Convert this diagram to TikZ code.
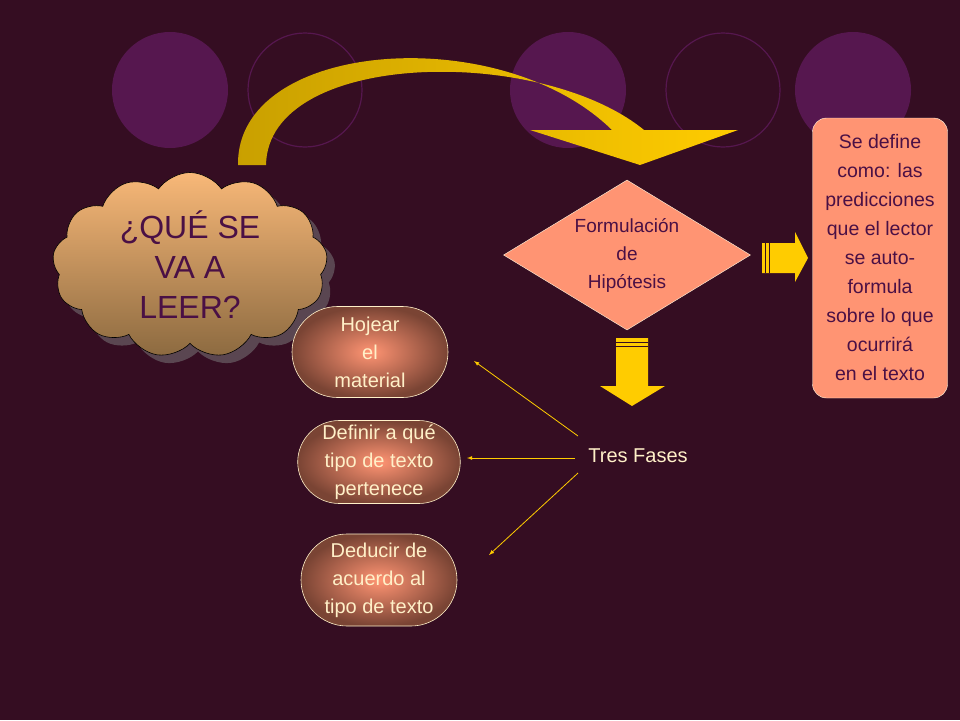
\documentclass[tikz,border=0pt]{standalone}
\usepackage{fontspec}
\setmainfont{Liberation Sans}
\usetikzlibrary{shapes.symbols,shapes.geometric,shapes.misc,shadows}
\definecolor{bgwine}{HTML}{350D22}
\definecolor{circpurple}{HTML}{56174F}
\definecolor{salmon}{HTML}{FF9473}
\definecolor{inkpurple}{HTML}{4A1045}
\definecolor{cream}{HTML}{FFF0C8}
\definecolor{gold}{HTML}{FFCC00}
\definecolor{darkgold}{HTML}{C9A000}
\definecolor{boxbrown}{HTML}{7A4434}
\definecolor{cloudtop}{HTML}{F8B878}
\definecolor{cloudbot}{HTML}{8C6A40}
\tikzset{
  faseitem/.style={rounded rectangle, minimum width=158pt, draw=cream, line width=0.6pt,
    inner color=salmon, outer color=boxbrown, text=cream, align=center, inner sep=1pt,
    font=\fontsize{20}{28}\selectfont},
  fasearrow/.style={draw=gold, line width=0.8pt, -latex}
}
\begin{document}
\begin{tikzpicture}[x=1pt,y=-1pt]
  \fill[bgwine] (0,0) rectangle (960,720);
  \useasboundingbox (0,0) rectangle (960,720);

  \fill[circpurple] (170,90) circle (58);
  \fill[circpurple] (568,90) circle (58);
  \fill[circpurple] (853,90) circle (58);
  \draw[circpurple, line width=1.2pt] (305,90) circle (57);
  \draw[circpurple, line width=1.2pt] (723,90) circle (57);

  % curved arrow
  \shade[left color=darkgold, right color=gold]
    (238,165) .. controls (236,40) and (500,20) .. (612,130)
    -- (530,130) -- (640,165) -- (738,130) -- (644,130)
    .. controls (540,45) and (268,50) .. (266,165) -- cycle;

  \node[cloud, cloud puffs=13, cloud puff arc=110, aspect=1.3,
    minimum width=275pt, minimum height=185pt, draw=black, line width=0.6pt,
    top color=cloudtop, bottom color=cloudbot,
    drop shadow={shadow xshift=8pt, shadow yshift=-8pt, fill=gray},
    text=inkpurple, align=center, font=\fontsize{32}{40}\selectfont]
    (leer) at (190,265) {¿QUÉ SE\\VA A\\LEER?};

  \node[diamond, fill=salmon, draw=cream!60, minimum width=247pt, minimum height=150pt,
    inner sep=0pt, aspect=1.65, text=inkpurple, align=center,
    font=\fontsize{19}{28}\selectfont] (hipo) at (627,255) {Formulación\\de\\Hipótesis};

  \node[fill=salmon, draw=cream!60, rounded corners=14pt, minimum width=135pt,
    minimum height=280pt, inner sep=0pt, text=inkpurple, align=center,
    font=\fontsize{19.5}{29}\selectfont] (defin) at (880,258)
    {Se define\\como: las\\predicciones\\que el lector\\se auto-\\formula\\sobre lo que\\ocurrirá\\en el texto};

  % block arrows
  \fill[gold] (762,243) -- (795,243) -- (795,232) -- (808,258) -- (795,282)
    -- (795,273) -- (762,273) -- cycle;
  \draw[bgwine, line width=0.8pt] (765,243) -- (765,273) (769,243) -- (769,273);
  \fill[gold] (616,338) -- (648,338) -- (648,386) -- (665,386) -- (632,406)
    -- (600,386) -- (616,386) -- cycle;
  \draw[bgwine, line width=0.8pt] (616,342) -- (648,342) (616,346) -- (648,346);

  \node[faseitem, minimum height=91pt] (hojear) at (370,352) {Hojear\\el\\material};
  \node[faseitem, minimum height=83pt] (definir) at (379,462) {Definir a qué\\tipo de texto\\pertenece};
  \node[faseitem, minimum height=92pt] (deducir) at (379,580) {Deducir de\\acuerdo al\\tipo de texto};

  \node[text=cream, font=\fontsize{20}{24}\selectfont] (tres) at (638,456) {Tres Fases};
  \coordinate (s1) at (578,436);
  \coordinate (s2) at (575,458);
  \coordinate (s3) at (578,473);
  \coordinate (t1) at (474,361);
  \coordinate (t2) at (467,458);
  \coordinate (t3) at (489,555);
  \draw[fasearrow] (s1) -- (t1);
  \draw[fasearrow] (s2) -- (t2);
  \draw[fasearrow] (s3) -- (t3);
\end{tikzpicture}
\end{document}
